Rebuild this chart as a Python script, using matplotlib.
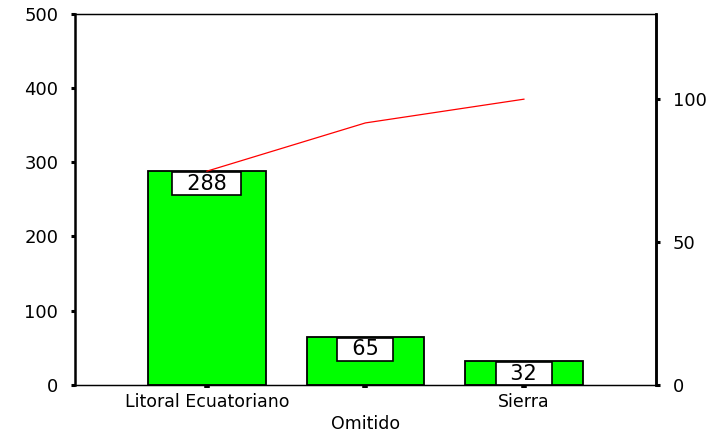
import numpy as np
import matplotlib.pyplot as plt

# data
categories = ["Litoral Ecuatoriano", "Omitido", "Sierra"]
counts = [288, 65, 32]
left_ticks = [0, 100, 200, 300, 400, 500]
right_ticks = [0, 50, 100]

total = sum(counts)
cum_pct = np.cumsum(counts) / total * 100
x = np.arange(len(categories))

plt.rcParams['font.family'] = ['DejaVu Sans']

fig = plt.figure(figsize=(7.13, 4.32), dpi=100)
ax = fig.add_axes([0.105, 0.109, 0.815, 0.859])

ax.bar(x, counts, width=0.74, color='#00ff00', edgecolor='black',
       linewidth=1.3, zorder=2)

# value boxes inside bars
for xi, c in zip(x, counts):
    ax.annotate(f"  {c}  ", xy=(xi, c), xytext=(0, -2), textcoords='offset points',
                ha='center', va='top', fontsize=15, zorder=3, clip_on=True,
                bbox=dict(boxstyle='square,pad=0.07', fc='white', ec='black', lw=1.2))

ax.set_xlim(-0.833, 2.833)
ax.set_ylim(0, 500)
ax.set_yticks(left_ticks)
ax.set_xticks(x)
ax.set_xticklabels(categories, fontsize=12.5)
ax.tick_params(axis='y', direction='out', length=3, width=2.2, pad=9, labelsize=13)
ax.tick_params(axis='x', direction='out', length=2, width=4, pad=4)
ax.xaxis.get_major_ticks()[1].set_pad(20)

for side in ['left', 'right']:
    ax.spines[side].set_linewidth(1.8)
for side in ['top', 'bottom']:
    ax.spines[side].set_linewidth(0.9)

# cumulative percentage on secondary axis
ax2 = ax.twinx()
ax2.plot(x, cum_pct, color='red', linewidth=0.9)
ax2.set_ylim(0, 500 / total * 100)
ax2.set_yticks(right_ticks)
ax2.tick_params(axis='y', direction='out', length=3, width=2.2, pad=9, labelsize=13)
ax2.spines['right'].set_linewidth(1.8)
ax2.spines['left'].set_visible(False)
ax2.spines['top'].set_linewidth(0.9)
ax2.spines['bottom'].set_linewidth(0.9)

fig.savefig('out.png', dpi=100)
